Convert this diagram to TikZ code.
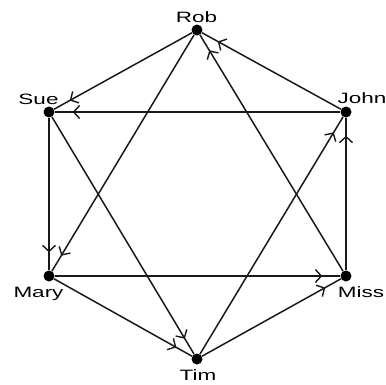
\documentclass[tikz,border=0pt]{standalone}
\usepackage{fontspec}
\setmainfont{Liberation Sans}
\usetikzlibrary{arrows.meta,decorations.markings}
\begin{document}
\begin{tikzpicture}[x=1pt,y=-1pt,
  dot/.style={circle,fill=black,inner sep=0pt,minimum size=11pt},
  lbl/.style={inner sep=0pt,anchor=base,font=\fontsize{15}{18}\selectfont},
  edge/.style={line width=1.5pt,draw=black!90,
    postaction={decorate,decoration={markings,
      mark=at position -18pt with {\arrow{Straight Barb[length=6pt,width=13pt,line width=1.4pt]}}}}}]
\useasboundingbox (0,0) rectangle (386,384);
\node[dot] (rob) at (197,30) {};
\node[dot] (sue) at (49,112) {};
\node[dot] (john) at (346,112) {};
\node[dot] (mary) at (49,276) {};
\node[dot] (miss) at (346,276) {};
\node[dot] (tim) at (197,359) {};
\node[lbl] (lrob) at (196.5,22) {\scalebox{1.5}[1]{Rob}};
\node[lbl] (lsue) at (38.5,104) {\scalebox{1.5}[1]{Sue}};
\node[lbl] (ljohn) at (362,103) {\scalebox{1.5}[1]{John}};
\node[lbl] (lmary) at (38.5,297) {\scalebox{1.5}[1]{Mary}};
\node[lbl] (lmiss) at (361,297) {\scalebox{1.5}[1]{Miss}};
\node[lbl] (ltim) at (198,380) {\scalebox{1.5}[1]{Tim}};
\draw[edge] (rob) -- (sue);
\draw[edge] (rob) -- (mary);
\draw[edge] (john) -- (rob);
\draw[edge] (miss) -- (rob);
\draw[edge] (john) -- (sue);
\draw[edge] (sue) -- (mary);
\draw[edge] (sue) -- (tim);
\draw[edge] (mary) -- (miss);
\draw[edge] (mary) -- (tim);
\draw[edge] (miss) -- (john);
\draw[edge] (tim) -- (john);
\draw[edge] (tim) -- (miss);
\end{tikzpicture}
\end{document}
